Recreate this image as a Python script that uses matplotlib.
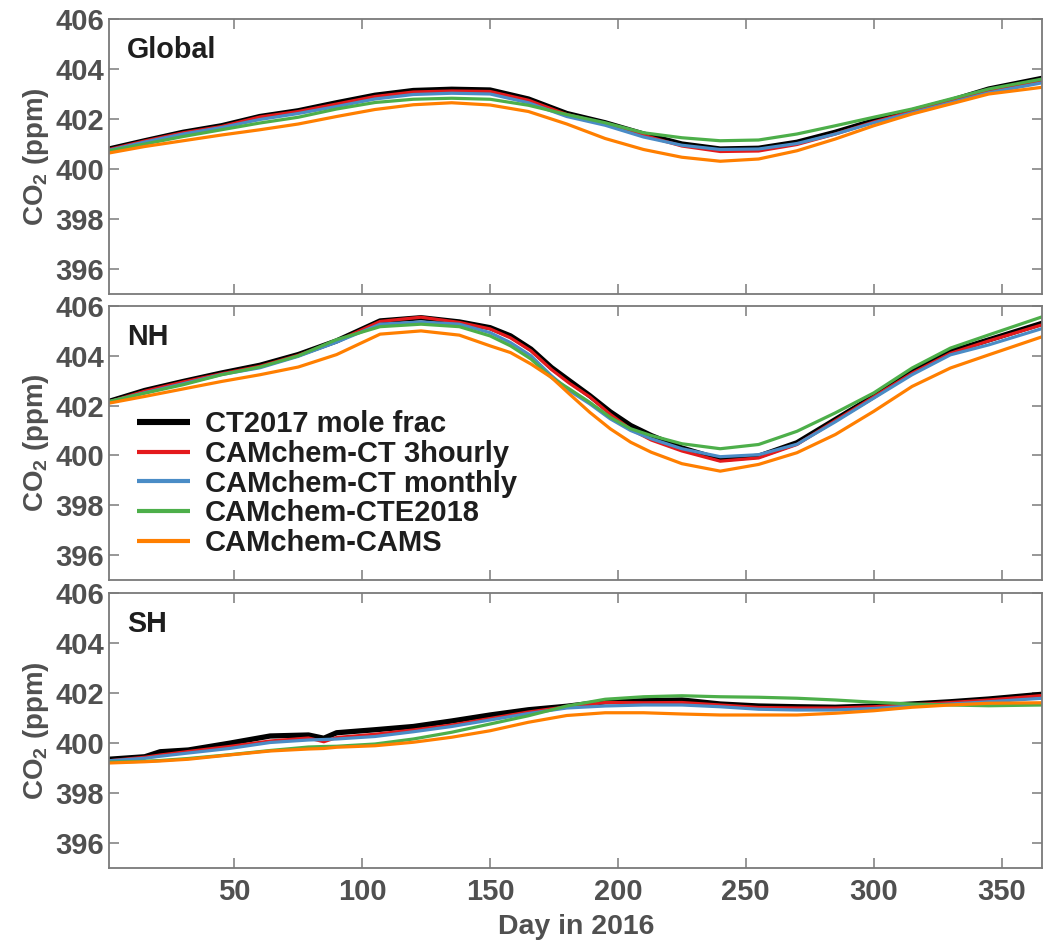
import matplotlib
matplotlib.use("Agg")
import matplotlib.pyplot as plt

plt.rcParams['font.family'] = ['Liberation Sans', 'DejaVu Sans']
plt.rcParams['font.weight'] = 'bold'
plt.rcParams['mathtext.fontset'] = 'custom'
plt.rcParams['mathtext.rm'] = 'Liberation Sans:bold'
plt.rcParams['mathtext.bf'] = 'Liberation Sans:bold'
plt.rcParams['mathtext.it'] = 'Liberation Sans:bold'

series_names = ["CT2017 mole frac", "CAMchem-CT 3hourly", "CAMchem-CT monthly",
                "CAMchem-CTE2018", "CAMchem-CAMS"]
colors = ["#000000", "#e41a1c", "#4a8cc6", "#4daf4a", "#ff7f00"]
widths = [3.8, 2.3, 2.3, 2.3, 2.3]
legend_widths = [4.4, 3.0, 3.0, 3.0, 3.0]

# Global
glob_days = [1, 15, 30, 45, 60, 75, 90, 105, 120, 135, 150, 165, 180,
             195, 210, 225, 240, 255, 270, 285, 300, 315, 330, 345, 366]
glob_ct = [400.80, 401.13, 401.47, 401.73, 402.10, 402.33, 402.65, 402.95, 403.14, 403.19, 403.16, 402.80, 402.22,
           401.85, 401.40, 401.00, 400.80, 400.83, 401.07, 401.47, 401.93, 402.33, 402.73, 403.20, 403.63]
glob_3h = [400.78, 401.12, 401.45, 401.70, 402.08, 402.30, 402.60, 402.90, 403.08, 403.12, 403.10, 402.75, 402.18,
           401.80, 401.35, 400.92, 400.70, 400.72, 400.98, 401.40, 401.88, 402.30, 402.70, 403.15, 403.55]
glob_mo = [400.75, 401.08, 401.40, 401.66, 401.98, 402.22, 402.50, 402.80, 402.98, 403.03, 403.00, 402.65, 402.10,
           401.75, 401.28, 400.95, 400.78, 400.80, 401.02, 401.40, 401.85, 402.25, 402.65, 403.05, 403.45]
glob_cte = [400.73, 401.00, 401.30, 401.57, 401.84, 402.07, 402.40, 402.66, 402.79, 402.83, 402.79, 402.55, 402.18,
            401.85, 401.45, 401.25, 401.13, 401.16, 401.40, 401.73, 402.07, 402.40, 402.80, 403.20, 403.60]
glob_cams = [400.64, 400.90, 401.13, 401.36, 401.57, 401.80, 402.10, 402.38, 402.57, 402.65, 402.56, 402.30, 401.80,
             401.22, 400.78, 400.47, 400.31, 400.40, 400.73, 401.20, 401.73, 402.20, 402.60, 403.00, 403.27]

# NH
nh_days = [1, 15, 30, 45, 60, 75, 90, 107, 123, 138, 150, 158, 166, 174, 181,
           189, 197, 205, 213, 225, 240, 255, 270, 285, 300, 315, 330, 345, 366]
nh_ct = [402.17, 402.61, 402.97, 403.31, 403.62, 404.05, 404.60, 405.40, 405.53, 405.36, 405.13, 404.80, 404.27,
         403.53, 403.00, 402.40, 401.75, 401.20, 400.80, 400.30, 399.84, 399.97, 400.51, 401.44, 402.37, 403.37,
         404.17, 404.64, 405.31]
nh_3h = [402.15, 402.58, 402.95, 403.28, 403.58, 404.02, 404.58, 405.38, 405.55, 405.34, 405.08, 404.72, 404.20,
         403.45, 402.90, 402.35, 401.65, 401.05, 400.62, 400.18, 399.77, 399.90, 400.44, 401.40, 402.35, 403.30,
         404.10, 404.60, 405.25]
nh_mo = [402.15, 402.52, 402.88, 403.25, 403.52, 403.98, 404.55, 405.27, 405.36, 405.27, 404.93, 404.53, 404.00,
         403.20, 402.60, 402.07, 401.47, 401.00, 400.67, 400.27, 399.95, 400.03, 400.45, 401.35, 402.30, 403.24,
         404.04, 404.44, 405.10]
nh_cte = [402.17, 402.50, 402.84, 403.24, 403.55, 404.00, 404.65, 405.17, 405.27, 405.17, 404.80, 404.40, 403.87,
          403.13, 402.67, 402.13, 401.53, 401.07, 400.80, 400.47, 400.27, 400.44, 400.97, 401.71, 402.51, 403.51,
          404.31, 404.84, 405.57]
nh_cams = [402.10, 402.37, 402.67, 402.97, 403.24, 403.55, 404.05, 404.87, 405.00, 404.83, 404.40, 404.13, 403.67,
           403.13, 402.47, 401.73, 401.07, 400.53, 400.13, 399.67, 399.37, 399.64, 400.11, 400.84, 401.77, 402.77,
           403.51, 404.04, 404.77]

# SH
sh_days = [1, 15, 21, 32, 48, 64, 79, 85, 90, 105, 120, 135, 150, 165, 180,
           195, 210, 225, 240, 255, 270, 285, 300, 315, 330, 345, 366]
sh_ct = [399.35, 399.45, 399.65, 399.72, 399.99, 400.28, 400.32, 400.19, 400.41, 400.53, 400.66, 400.88, 401.12,
         401.33, 401.47, 401.65, 401.69, 401.72, 401.56, 401.48, 401.45, 401.43, 401.48, 401.56, 401.65, 401.76, 401.95]
sh_3h = [399.29, 399.43, 399.52, 399.66, 399.86, 400.08, 400.20, 400.05, 400.22, 400.35, 400.52, 400.72, 400.98,
         401.24, 401.45, 401.62, 401.61, 401.62, 401.52, 401.42, 401.40, 401.40, 401.45, 401.53, 401.62, 401.72, 401.90]
sh_mo = [399.29, 399.39, 399.47, 399.60, 399.78, 400.02, 400.12, 400.14, 400.16, 400.26, 400.45, 400.66, 400.92,
         401.18, 401.40, 401.48, 401.52, 401.52, 401.45, 401.35, 401.32, 401.32, 401.38, 401.48, 401.56, 401.65, 401.79]
sh_cte = [399.23, 399.27, 399.30, 399.38, 399.53, 399.70, 399.84, 399.86, 399.87, 399.96, 400.16, 400.43, 400.76,
          401.09, 401.48, 401.75, 401.85, 401.89, 401.85, 401.83, 401.79, 401.72, 401.63, 401.56, 401.52, 401.49, 401.52]
sh_cams = [399.20, 399.25, 399.28, 399.35, 399.52, 399.68, 399.76, 399.78, 399.83, 399.89, 400.03, 400.23, 400.49,
           400.83, 401.10, 401.21, 401.21, 401.16, 401.12, 401.12, 401.12, 401.19, 401.29, 401.43, 401.52, 401.59, 401.61]

panels = [("Global", glob_days, [glob_ct, glob_3h, glob_mo, glob_cte, glob_cams]),
          ("NH", nh_days, [nh_ct, nh_3h, nh_mo, nh_cte, nh_cams]),
          ("SH", sh_days, [sh_ct, sh_3h, sh_mo, sh_cte, sh_cams])]

yticks = [396, 398, 400, 402, 404, 406]
xticks = [50, 100, 150, 200, 250, 300, 350]

W, H = 1043, 942
fig = plt.figure(figsize=(W / 100, H / 100), dpi=100)

tick_color = "#505050"
spine_color = "#7a7a7a"
left = 109 / W
width = 1 - left - 0.0005
boxes = [(19, 294), (306, 580), (593, 868)]

axes = []
for i, ((name, days, data), (top, bot)) in enumerate(zip(panels, boxes)):
    ax = fig.add_axes([left, 1 - bot / H, width, (bot - top) / H])
    for vals, c, lw, lab in zip(data, colors, widths, series_names):
        ax.plot(days, vals, color=c, lw=lw, label=lab,
                solid_capstyle='round', solid_joinstyle='round')
    ax.set_xlim(1, 366)
    ax.set_ylim(395, 406)
    ax.set_yticks(yticks)
    ax.set_xticks(xticks)
    ax.tick_params(direction='in', length=7, width=1.1, color=spine_color,
                   top=True, right=True, labelsize=21, labelcolor=tick_color)
    ax.tick_params(axis='y', pad=3.5)
    ax.tick_params(axis='x', pad=7)
    for lab in ax.get_yticklabels() + ax.get_xticklabels():
        lab.set_fontweight('bold')
    if i < 2:
        ax.tick_params(labelbottom=False)
    for s in ax.spines.values():
        s.set_color(spine_color)
        s.set_linewidth(1.3)
    ax.set_ylabel("CO$_2$ (ppm)", fontsize=20, color=tick_color, fontweight='bold', labelpad=3)
    ax.text(0.019, 0.887, name, transform=ax.transAxes, fontsize=20.7, fontweight='bold',
            color="#1e1e1e", va='center', ha='left')
    axes.append(ax)

axes[2].set_xlabel("Day in 2016", fontsize=20.5, color=tick_color, fontweight='bold', labelpad=6)

leg = axes[1].legend(loc='upper left', bbox_to_anchor=(0.030, 0.619), frameon=False,
                     fontsize=21, handlelength=1.82, handletextpad=0.5, labelspacing=0.055,
                     borderpad=0.0, borderaxespad=0.0)
for t in leg.get_texts():
    t.set_color("#1e1e1e")
    t.set_fontweight('bold')
for lh, lw in zip(leg.get_lines(), legend_widths):
    lh.set_solid_capstyle('butt')
    lh.set_linewidth(lw)

fig.savefig("out.png", dpi=100)
